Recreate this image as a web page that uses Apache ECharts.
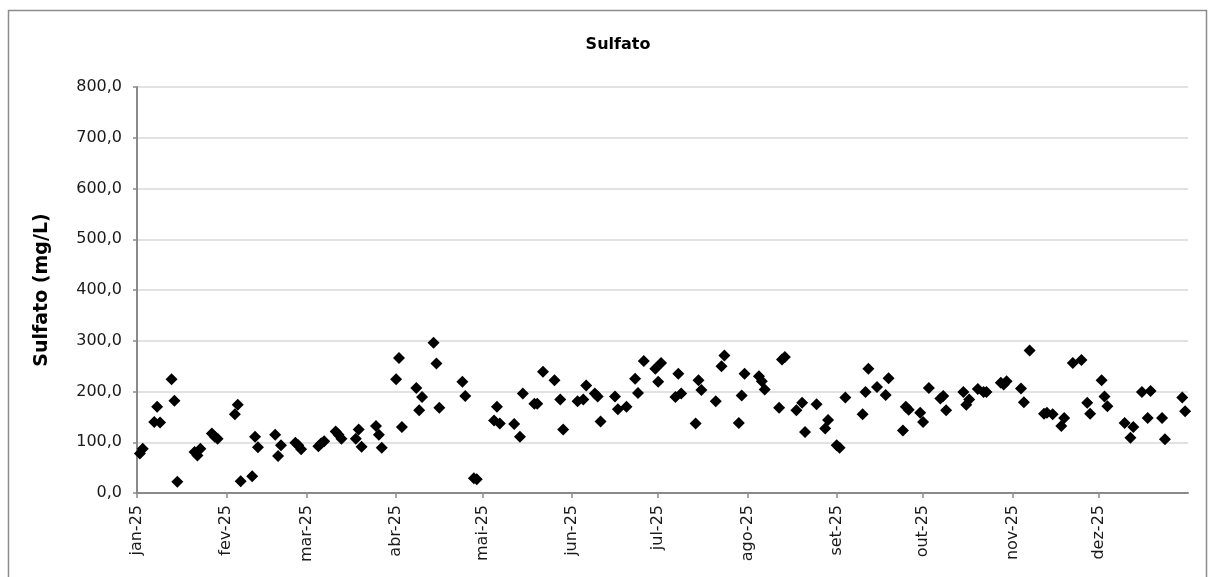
<!DOCTYPE html>
<html>
<head>
<meta charset="utf-8">
<script src="https://cdn.jsdelivr.net/npm/echarts@6.0.0/dist/echarts.min.js"></script>
<style>
html,body{margin:0;padding:0;background:#fff;}
#c{width:1216px;height:577px;}
</style>
</head>
<body>
<div id="c"></div>
<script>
const monthLabels = ['jan-25','fev-25','mar-25','abr-25','mai-25','jun-25','jul-25','ago-25','set-25','out-25','nov-25','dez-25'];
const yTickValues = [0,100,200,300,400,500,600,700,800];

const dates = [
'2025-01-02','2025-01-03','2025-01-07','2025-01-08','2025-01-09','2025-01-13','2025-01-14','2025-01-15','2025-01-21','2025-01-22','2025-01-23','2025-01-27','2025-01-28','2025-01-29',
'2025-02-04','2025-02-05','2025-02-06','2025-02-10','2025-02-11','2025-02-12','2025-02-18','2025-02-19','2025-02-20','2025-02-25','2025-02-26','2025-02-27',
'2025-03-05','2025-03-06','2025-03-07','2025-03-11','2025-03-12','2025-03-13','2025-03-18','2025-03-19','2025-03-20','2025-03-25','2025-03-26','2025-03-27',
'2025-04-01','2025-04-02','2025-04-03','2025-04-08','2025-04-09','2025-04-10','2025-04-14','2025-04-15','2025-04-16','2025-04-24','2025-04-25','2025-04-28','2025-04-29',
'2025-05-05','2025-05-06','2025-05-07','2025-05-12','2025-05-14','2025-05-15','2025-05-19','2025-05-20','2025-05-22','2025-05-26','2025-05-28','2025-05-29',
'2025-06-03','2025-06-05','2025-06-06','2025-06-09','2025-06-10','2025-06-11','2025-06-16','2025-06-17','2025-06-20','2025-06-23','2025-06-24','2025-06-26','2025-06-30',
'2025-07-01','2025-07-02','2025-07-07','2025-07-08','2025-07-09','2025-07-14','2025-07-15','2025-07-16','2025-07-21','2025-07-23','2025-07-24','2025-07-29','2025-07-30','2025-07-31',
'2025-08-05','2025-08-06','2025-08-07','2025-08-12','2025-08-13','2025-08-14','2025-08-18','2025-08-20','2025-08-21','2025-08-25','2025-08-28','2025-08-29',
'2025-09-01','2025-09-02','2025-09-04','2025-09-10','2025-09-11','2025-09-12','2025-09-15','2025-09-18','2025-09-19','2025-09-24','2025-09-25','2025-09-26','2025-09-30',
'2025-10-01','2025-10-03','2025-10-07','2025-10-08','2025-10-09','2025-10-15','2025-10-16','2025-10-17','2025-10-20','2025-10-22','2025-10-23','2025-10-28','2025-10-29','2025-10-30',
'2025-11-04','2025-11-05','2025-11-07','2025-11-12','2025-11-13','2025-11-15','2025-11-18','2025-11-19','2025-11-22','2025-11-25','2025-11-27','2025-11-28',
'2025-12-02','2025-12-03','2025-12-04','2025-12-10','2025-12-12','2025-12-13','2025-12-16','2025-12-18','2025-12-19','2025-12-23','2025-12-24','2025-12-30','2025-12-31'
];

const sulfato = [
78,87,140,170,139,224,182,22,81,74,87,117,111,107,
155,174,23,33,111,90,115,73,94,99,94,86,
92,98,102,121,115,107,107,125,91,132,115,89,
224,266,130,207,163,189,296,255,168,219,191,29,27,
143,170,137,136,111,196,176,176,239,222,184,125,
181,184,212,196,190,141,190,165,170,225,197,260,245,
219,256,189,235,196,137,222,203,181,250,271,138,192,235,
230,220,204,168,263,268,163,178,120,175,127,144,
94,89,188,155,199,245,209,193,226,123,170,164,158,
140,207,186,191,163,199,174,184,205,199,199,217,214,220,
206,179,281,156,158,155,132,148,256,262,178,156,
222,190,171,138,109,130,199,148,201,148,106,188,161
];

function parseDay(s){ const p = s.split('-').map(Number); return new Date(p[0], p[1]-1, p[2]).getTime(); }
const monthTicks = monthLabels.map((_, i) => new Date(2025, i, 1).getTime());
const data = dates.map((d, i) => [parseDay(d), sulfato[i]]);

const FONT = 'DejaVu Sans';
const chart = echarts.init(document.getElementById('c'), null, {renderer: 'canvas'});
chart.setOption({
  animation: false,
  backgroundColor: '#ffffff',
  graphic: [{
    type: 'rect', silent: true, z: -1,
    shape: {x: 8.5, y: 10.5, width: 1198, height: 620},
    style: {fill: 'none', stroke: '#8c8c8c', lineWidth: 1.5}
  }],
  title: {
    text: 'Sulfato', left: 613, top: 32, textAlign: 'center',
    textStyle: {fontFamily: FONT, fontSize: 16, fontWeight: 'bold', color: '#000'}
  },
  grid: {left: 137, right: 28, top: 87, bottom: 84},
  xAxis: {
    type: 'value',
    min: new Date(2025, 0, 1).getTime(),
    max: new Date(2026, 0, 1).getTime(),
    axisLine: {show: true, lineStyle: {color: '#8a8a8a', width: 2}},
    axisTick: {show: true, customValues: monthTicks, length: 5, lineStyle: {color: '#8a8a8a', width: 1.5}},
    axisLabel: {
      customValues: monthTicks, rotate: 90, margin: 12,
      fontFamily: FONT, fontSize: 16, color: '#1a1a1a',
      formatter: function (v) { const i = monthTicks.indexOf(v); return i >= 0 ? monthLabels[i] : ''; }
    },
    splitLine: {show: false}
  },
  yAxis: {
    type: 'value', min: 0, max: 800, interval: 100,
    name: 'Sulfato (mg/L)', nameLocation: 'middle', nameGap: 85,
    nameTextStyle: {fontFamily: FONT, fontSize: 19, fontWeight: 'bold', color: '#000'},
    axisLine: {show: true, lineStyle: {color: '#8a8a8a', width: 2}},
    axisTick: {show: true, length: 4, lineStyle: {color: '#8a8a8a', width: 1.5}},
    axisLabel: {
      margin: 15, fontFamily: FONT, fontSize: 16, color: '#1a1a1a',
      formatter: function (v) { return yTickValues.indexOf(v) >= 0 ? v.toFixed(1).replace('.', ',') : ''; }
    },
    splitLine: {show: true, lineStyle: {color: '#d9d9d9', width: 1.5}}
  },
  series: [{
    type: 'scatter', name: 'Sulfato', data: data,
    symbol: 'diamond', symbolSize: 12,
    itemStyle: {color: '#000000', opacity: 1}
  }]
});
</script>
</body>
</html>
